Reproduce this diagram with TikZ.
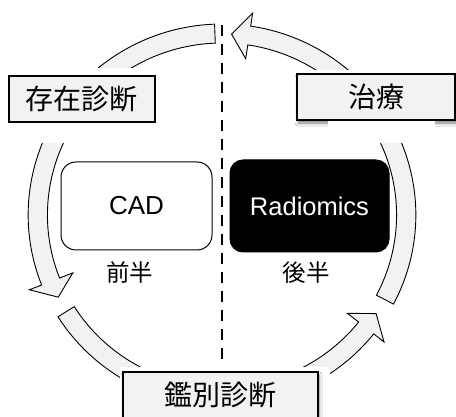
\documentclass[tikz,border=0pt]{standalone}
\usepackage{fontspec}
\setmainfont{Liberation Sans}
\newfontfamily\jp{Noto Sans CJK JP}
\usetikzlibrary{shadows.blur}
\definecolor{boxgray}{HTML}{F2F2F2}
\newcommand\cyclearrow[1]{%
  \draw[arrowshape] ({92.2+#1}:191pt) arc[start angle={92.2+#1}, end angle={201.5+#1}, radius=191pt]
    -- ({201.5+#1}:204pt) -- ({207+#1}:181pt) -- ({201.5+#1}:158pt) -- ({201.5+#1}:172pt)
    arc[start angle={201.5+#1}, end angle={92.2+#1}, radius=172pt] -- cycle;}
\begin{document}
\begin{tikzpicture}[x=1pt,y=1pt,
  arrowshape/.style={draw=black, line width=0.9pt, fill=boxgray, line join=miter},
  labelbox/.style={draw=black, line width=1.1pt, fill=boxgray, inner sep=0pt,
    minimum height=46pt, font=\jp\fontsize{28}{30}\selectfont},
  shadowed/.style={blur shadow={shadow xshift=1.2pt, shadow yshift=-3pt,
    shadow blur radius=3pt, shadow opacity=50}},
  mask/.style={fill=white, draw=none},
  halfnote/.style={inner sep=0pt, font=\jp\fontsize{23.5}{26}\selectfont}]
\useasboundingbox (0,0) rectangle (456,-417);
\fill[white] (0,0) rectangle (456,-417);
% circular arrows
\begin{scope}[shift={(222,-215)}, xscale=1.015]
  \cyclearrow{0}
  \cyclearrow{120}
  \cyclearrow{240}
\end{scope}
% dashed divider
\coordinate (dtop) at (222,-25);
\coordinate (dbot) at (222,-362);
\draw[line width=2.6pt, dash pattern=on 11pt off 8pt] (dtop) -- (dbot);
% masks behind the labels
\path[mask] (0,-68) rectangle (162,-143);
\path[mask] (288,-70) rectangle (456,-143);
\path[mask] (120,-367) rectangle (330,-417);
% labels
\node[labelbox, minimum width=146pt] (exist) at (82,-99) {存在診断};
\node[labelbox, shadowed, minimum width=158pt] (treat) at (376,-97) {治療};
\path[mask] (328,-121) rectangle (435,-143);
\node[labelbox, shadowed, minimum width=195pt] (diff) at (220.5,-395) {鑑別診断};
% inner boxes
\node[draw=black, line width=1pt, rounded corners=15pt, fill=white, inner sep=0pt,
  minimum width=151pt, minimum height=88pt, font=\fontsize{26}{28}\selectfont]
  (cad) at (136.5,-206) {CAD};
\node[draw=black, line width=1pt, rounded corners=13pt, fill=black, text=white, inner sep=0pt,
  minimum width=159pt, minimum height=92pt, font=\fontsize{25.5}{28}\selectfont]
  (rad) at (309.5,-206) {Radiomics};
\node[halfnote] (first) at (130,-272) {前半};
\node[halfnote] (second) at (306,-273) {後半};
\end{tikzpicture}
\end{document}
